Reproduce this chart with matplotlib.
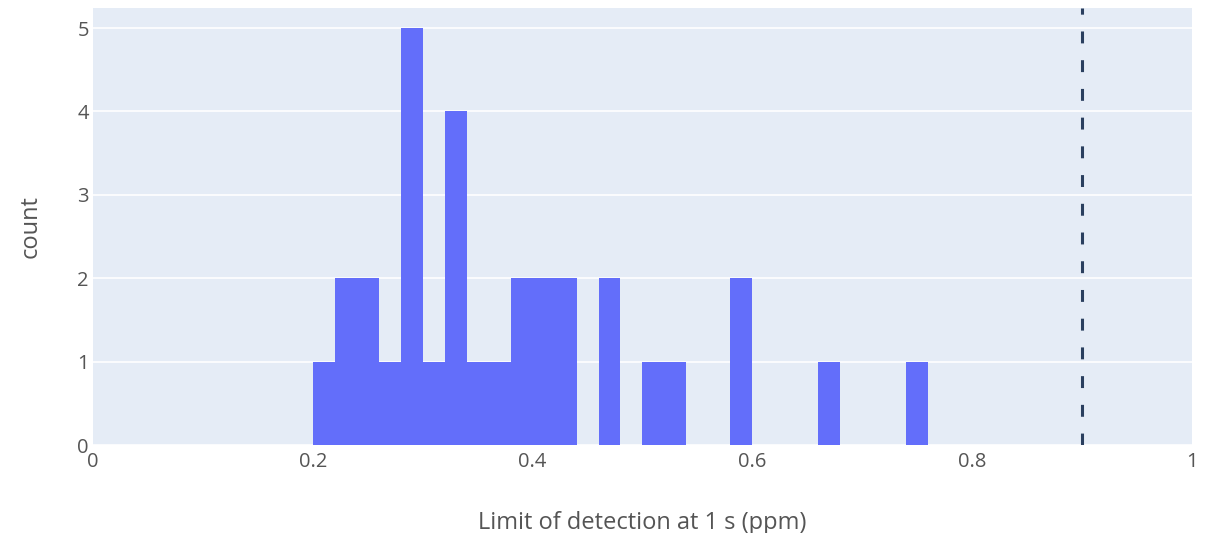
import numpy as np
import matplotlib.pyplot as plt

# histogram bins (left edge, width 0.02) and counts
bin_left = [0.20, 0.22, 0.24, 0.26, 0.28, 0.30, 0.32, 0.34, 0.36, 0.38,
            0.40, 0.42, 0.46, 0.50, 0.52, 0.58, 0.66, 0.74]
counts = [1, 2, 2, 1, 5, 1, 4, 1, 1, 2, 2, 2, 2, 1, 1, 2, 1, 1]
bin_width = 0.02
threshold = 0.9

x_ticks = [0, 0.2, 0.4, 0.6, 0.8, 1]
x_ticklabels = ["0", "0.2", "0.4", "0.6", "0.8", "1"]
y_ticks = [0, 1, 2, 3, 4, 5]

plt.rcParams['font.family'] = ['Open Sans', 'DejaVu Sans']

fig = plt.figure(figsize=(12.09, 5.33), dpi=100)
ax = fig.add_axes([0.0769, 0.165, 0.909, 0.820])
ax.set_facecolor("#E5ECF6")

ax.bar(bin_left, counts, width=bin_width, align="edge", color="#636EFA",
       linewidth=0, zorder=2)
ax.axvline(threshold, color="#2A3F5F", linestyle=(0, (3.9, 5.5)),
           linewidth=2.2, zorder=3)

ax.set_xlim(0, 1)
ax.set_ylim(0, 5.24)
ax.set_xticks(x_ticks)
ax.set_xticklabels(x_ticklabels)
ax.set_yticks(y_ticks)
ax.grid(axis="y", color="white", linewidth=1.2, zorder=1)
ax.set_axisbelow(True)
for s in ax.spines.values():
    s.set_visible(False)
ax.tick_params(length=0, labelsize=14.5, colors="#555555")
ax.tick_params(axis="x", pad=5)
ax.tick_params(axis="y", pad=3)

ax.set_xlabel("Limit of detection at 1 s (ppm)", fontsize=17, color="#555555",
              labelpad=28)
ax.set_ylabel("count", fontsize=17, color="#555555", labelpad=25)

fig.savefig("out.png", dpi=100, facecolor="white")
